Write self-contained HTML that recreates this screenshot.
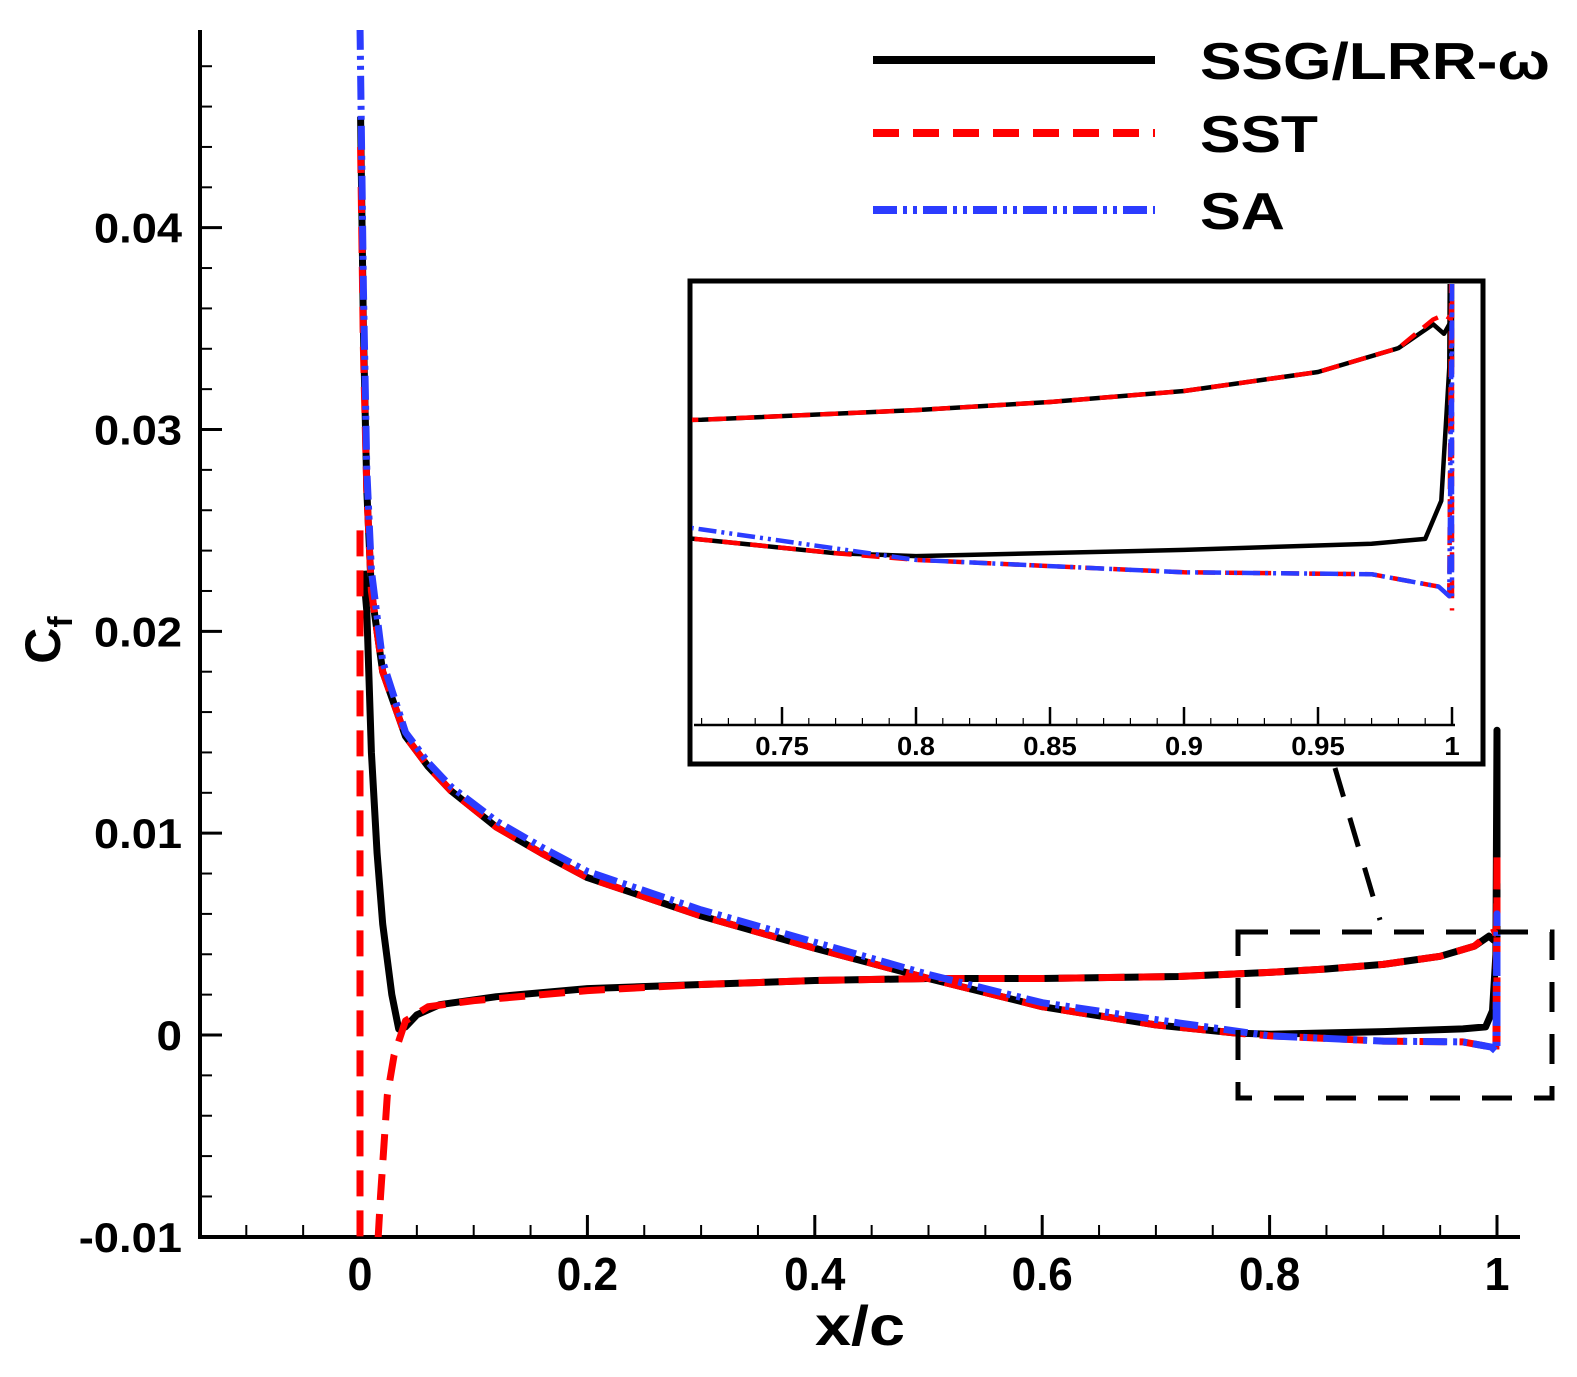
<!DOCTYPE html>
<html><head><meta charset="utf-8"><style>
html,body{margin:0;padding:0;background:#fff;}
svg{display:block;font-family:"Liberation Sans",Arial,sans-serif;font-weight:bold;}
</style></head><body>
<svg id="chart" width="1577" height="1377" viewBox="0 0 1577 1377" xmlns="http://www.w3.org/2000/svg">
<defs>
<clipPath id="mainClip"><rect x="200" y="30" width="1320" height="1207"/></clipPath>
<clipPath id="insetClip"><rect x="692" y="284" width="788" height="441"/></clipPath>
</defs>
<g id="main"></g>
<g id="inset"></g>
</svg>
<script>
// ---- data ----
const ssgUpperX = [0.0005,0.003,0.006,0.01,0.02,0.04,0.06,0.08,0.12,0.16,0.2,0.3,0.4,0.5,0.6,0.7,0.77,0.8,0.9,0.97,0.99,0.996,0.999,1.0,1.0];
const ssgUpperY = [0.0455,0.035,0.027,0.022,0.018,0.0148,0.0133,0.0121,0.0103,0.009,0.0078,0.0059,0.0043,0.0028,0.0014,0.0005,0.0001,0.00004,0.00017,0.0003,0.0004,0.0012,0.004,0.0151,0.004];
const ssgLowerX = [0.003,0.006,0.01,0.015,0.02,0.028,0.034,0.04,0.05,0.07,0.12,0.2,0.3,0.4,0.5,0.6,0.72,0.8,0.85,0.9,0.95,0.98,0.993,0.997,1.0];
const ssgLowerY = [0.023,0.021,0.014,0.009,0.0055,0.002,0.0003,0.0004,0.001,0.0015,0.0019,0.0023,0.0025,0.0027,0.0028,0.0028,0.0029,0.0031,0.00327,0.0035,0.0039,0.0044,0.0049,0.0047,0.005];
const sstUpperX = [0.0005,0.003,0.006,0.01,0.02,0.04,0.06,0.08,0.12,0.16,0.2,0.3,0.4,0.5,0.6,0.7,0.77,0.8,0.9,0.97,0.995,0.999,1.0,1.0];
const sstUpperY = [0.044,0.034,0.027,0.022,0.018,0.0148,0.0133,0.0121,0.0103,0.009,0.0078,0.0059,0.0043,0.0028,0.0014,0.0005,0.0001,-0.00004,-0.0003,-0.00034,-0.0006,-0.0008,0.009,-0.0011];
const sstLowerX = [0.0,0.0,0.014,0.018,0.024,0.03,0.04,0.06,0.1,0.2,0.3,0.4,0.5,0.6,0.72,0.8,0.85,0.9,0.95,0.98,0.993,0.997,1.0];
const sstLowerY = [0.025,-0.012,-0.012,-0.008,-0.003,-0.001,0.0007,0.0014,0.0017,0.0022,0.0025,0.0027,0.0028,0.0028,0.0029,0.0031,0.00327,0.0035,0.0039,0.0044,0.005,0.0051,0.005];
const saX = [0.0,0.003,0.006,0.01,0.02,0.04,0.06,0.08,0.12,0.16,0.2,0.3,0.4,0.5,0.6,0.72,0.8,0.9,0.97,0.995,0.999,1.0,1.0];
const saY = [0.05,0.037,0.028,0.023,0.0185,0.015,0.0135,0.0123,0.0106,0.0093,0.0081,0.0062,0.0046,0.003,0.0016,0.0006,-0.00004,-0.0003,-0.00034,-0.0006,-0.0008,0.006,-0.0008];
const xTicksMain = [0,0.2,0.4,0.6,0.8,1];
const xTickLabelsMain = ["0","0.2","0.4","0.6","0.8","1"];
const yTicksMain = [-0.01,0,0.01,0.02,0.03,0.04];
const yTickLabelsMain = ["-0.01","0","0.01","0.02","0.03","0.04"];
const xTicksInset = [0.75,0.8,0.85,0.9,0.95,1];
const xTickLabelsInset = ["0.75","0.8","0.85","0.9","0.95","1"];

// ---- scales ----
const mx = v => 360 + v*1137;
const my = v => 1035 - v*20183;
const ix = v => 1452 + (v-1)*2680;
const iy = v => 558 - v*47700;

const NS = "http://www.w3.org/2000/svg";
function mk(tag, attrs, parent){const e=document.createElementNS(NS,tag);for(const k in attrs)e.setAttribute(k,attrs[k]);parent.appendChild(e);return e;}
const main = document.getElementById('main');
const inset = document.getElementById('inset');

const styles = {
  ssg:{stroke:'#000',dash:'none',w:7},
  sst:{stroke:'#ff0000',dash:'26 14',w:7},
  sa:{stroke:'#2b3cff',dash:'24 6 4 6 4 6',w:7}
};
function drawSeries(parent, X, Y, sx, sy, st, name, clip){
  let d='';
  for(let i=0;i<X.length;i++) d += (i?'L':'M')+sx(X[i]).toFixed(1)+','+sy(Y[i]).toFixed(1);
  const p = mk('path',{d:d,fill:'none',stroke:st.stroke,'stroke-width':st.w,'stroke-dasharray':st.dash,'stroke-linejoin':'round','clip-path':'url(#'+clip+')'},parent);
  
  
}
function charW(s, per){ let w=0; for(const c of s){ w += (c==='.'?0.45:(c==='-'?0.6:1))*per; } return w; }

// ---- main axes ----
const ax = mk('path',{d:'M200,30 L200,1237 L1520,1237',fill:'none',stroke:'#000','stroke-width':4},main);


for(let v=-0.1; v<=1.0001; v+=0.05){
  const major = Math.abs(Math.round(v/0.2)*0.2 - v) < 1e-6 && v>-0.01;
  mk('line',{x1:mx(v),x2:mx(v),y1:1237,y2:1237-(major?22:12),stroke:'#000','stroke-width':major?3:2},main);
}
for(let v=-0.01; v<=0.0501; v+=0.002){
  const major = Math.abs(Math.round(v/0.01)*0.01 - v) < 1e-7;
  if(my(v)<30) continue;
  mk('line',{x1:200,x2:200+(major?22:12),y1:my(v),y2:my(v),stroke:'#000','stroke-width':major?3:2},main);
}
xTicksMain.forEach((v,i)=>{
  const s = xTickLabelsMain[i];
  const t = mk('text',{x:mx(v),y:1290,'text-anchor':'middle','font-size':46,textLength:charW(s,25),lengthAdjust:'spacingAndGlyphs'},main);
  t.textContent = s;
  
  
});
yTicksMain.forEach((v,i)=>{
  const s = yTickLabelsMain[i];
  const t = mk('text',{x:182,y:my(v)+15,'text-anchor':'end','font-size':42,textLength:charW(s,25.5),lengthAdjust:'spacingAndGlyphs'},main);
  t.textContent = s;
  
  
});
const xt = mk('text',{x:860,y:1345,'text-anchor':'middle','font-size':56,textLength:90,lengthAdjust:'spacingAndGlyphs'},main);
xt.textContent='x/c';


const yt = mk('text',{transform:'translate(60,640) rotate(-90)','text-anchor':'middle','font-size':50},main);
yt.innerHTML='C<tspan font-size="34" dy="12">f</tspan>';



// main series
drawSeries(main, ssgUpperX, ssgUpperY, mx, my, styles.ssg, 'ssg-upper-line','mainClip');
drawSeries(main, ssgLowerX, ssgLowerY, mx, my, styles.ssg, 'ssg-lower-line','mainClip');
drawSeries(main, sstUpperX, sstUpperY, mx, my, styles.sst, 'sst-upper-line','mainClip');
drawSeries(main, sstLowerX, sstLowerY, mx, my, styles.sst, 'sst-lower-line','mainClip');
drawSeries(main, saX, saY, mx, my, styles.sa, 'sa-line','mainClip');

// zoom box and connector
const zb = mk('rect',{x:1238,y:932,width:314,height:166,fill:'none',stroke:'#000','stroke-width':5,'stroke-dasharray':'30 22'},main);


const zl = mk('line',{x1:1335,y1:768,x2:1380,y2:920,stroke:'#000','stroke-width':5,'stroke-dasharray':'30 22'},main);



// legend
const leg = [['SSG/LRR-ω',styles.ssg,60,350],['SST',styles.sst,133,118],['SA',styles.sa,210,85]];
leg.forEach(([lab,st,y,w])=>{
  const l = mk('line',{x1:873,x2:1155,y1:y,y2:y,stroke:st.stroke,'stroke-width':8,'stroke-dasharray':st.dash},main);
  
  
  const t = mk('text',{x:1200,y:y+19,'font-size':52,textLength:w,lengthAdjust:'spacingAndGlyphs'},main);
  t.textContent = lab;
  
  
});

// ---- inset ----
const fr = mk('rect',{x:690,y:281,width:793,height:483,fill:'#fff',stroke:'#000','stroke-width':5},inset);


const iax = mk('path',{d:'M694,725 L1455,725',fill:'none',stroke:'#000','stroke-width':2.5},inset);


for(let v=0.72; v<=1.0001; v+=0.01){
  const major = Math.abs(Math.round(v/0.05)*0.05 - v) < 1e-6;
  mk('line',{x1:ix(v),x2:ix(v),y1:725,y2:725-(major?18:7),stroke:'#000','stroke-width':major?2.5:1.2},inset);
}
xTicksInset.forEach((v,i)=>{
  const s = xTickLabelsInset[i];
  const t = mk('text',{x:ix(v),y:755,'text-anchor':'middle','font-size':26,textLength:charW(s,15.5),lengthAdjust:'spacingAndGlyphs'},inset);
  t.textContent = s;
  
  
});
const thin = {ssg:{stroke:'#000',dash:'none',w:4.5},sst:{stroke:'#ff0000',dash:'18 10',w:4.5},sa:{stroke:'#2b3cff',dash:'18 5 3 5 3 5',w:4.5}};
drawSeries(inset, ssgUpperX, ssgUpperY, ix, iy, thin.ssg, 'inset-ssg-upper-line','insetClip');
drawSeries(inset, ssgLowerX, ssgLowerY, ix, iy, thin.ssg, 'inset-ssg-lower-line','insetClip');
drawSeries(inset, sstUpperX, sstUpperY, ix, iy, thin.sst, 'inset-sst-upper-line','insetClip');
drawSeries(inset, sstLowerX, sstLowerY, ix, iy, thin.sst, 'inset-sst-lower-line','insetClip');
drawSeries(inset, saX, saY, ix, iy, thin.sa, 'inset-sa-line','insetClip');
</script>
</body></html>
